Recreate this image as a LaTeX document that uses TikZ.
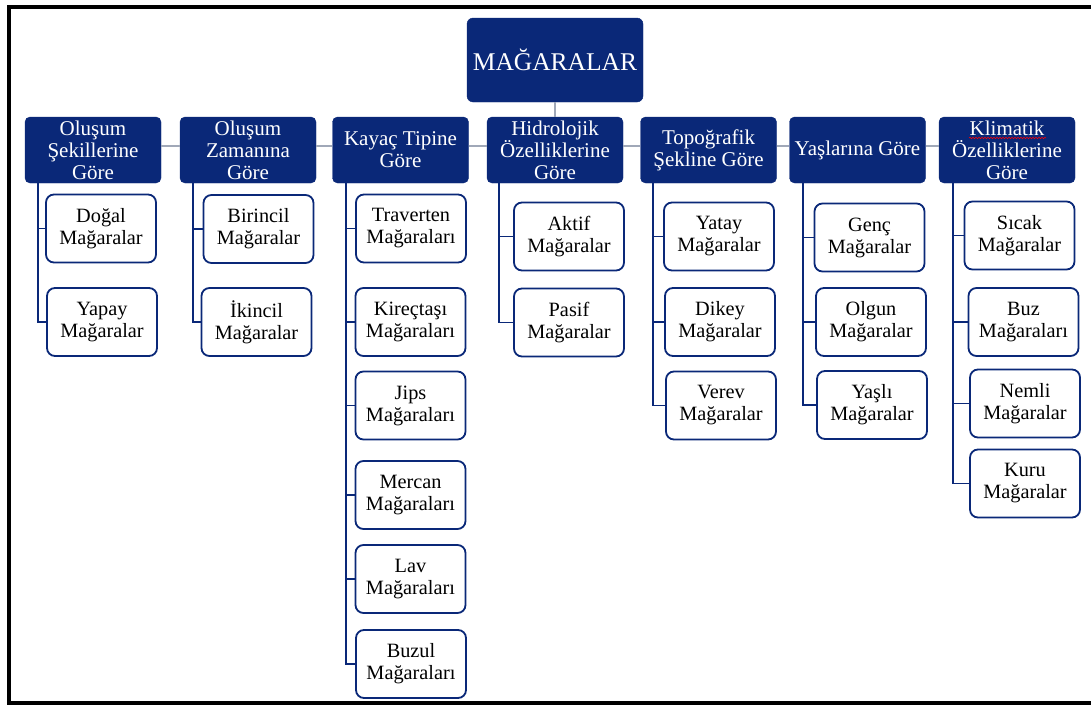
\documentclass[tikz,border=0pt]{standalone}
\usepackage{fontspec}
\setmainfont{Liberation Serif}
\usetikzlibrary{decorations.pathmorphing}
\definecolor{navy}{RGB}{10,40,120}
\definecolor{conngray}{RGB}{160,168,184}
\begin{document}
\begin{tikzpicture}[x=1pt,y=-1pt,
  hdr/.style={draw=navy, fill=navy, rounded corners=5pt, text=white, align=center,
    minimum width=136pt, minimum height=66pt, inner sep=0pt,
    font=\fontsize{21}{22}\selectfont},
  rootbox/.style={draw=navy, fill=navy, rounded corners=6pt, text=white, align=center,
    minimum width=176pt, minimum height=84pt, inner sep=0pt,
    font=\fontsize{25.5}{28}\selectfont},
  leaf/.style={draw=navy, fill=white, line width=1.8pt, rounded corners=8pt, align=center,
    minimum width=110pt, minimum height=68pt, inner sep=0pt,
    font=\fontsize{20.3}{22}\selectfont},
  spine/.style={draw=navy, line width=1.8pt},
  gline/.style={draw=conngray, line width=1.8pt}]
\useasboundingbox (0,0) rectangle (1091,704);
% frame
\draw[line width=4pt, black] (1100,6.5) -- (9,6.5) -- (9,702.5) -- (1100,702.5);

% root
\node[rootbox] (root) at (555,60) {MAĞARALAR};

% headers
\node[hdr] (h1) at (93,150) {Oluşum\\Şekillerine\\Göre};
\node[hdr] (h2) at (248,150) {Oluşum\\Zamanına\\Göre};
\node[hdr] (h3) at (400.5,150) {Kayaç Tipine\\Göre};
\node[hdr] (h4) at (555,150) {Hidrolojik\\Özelliklerine\\Göre};
\node[hdr] (h5) at (708.5,150) {Topoğrafik\\Şekline Göre};
\node[hdr] (h6) at (857.5,150) {Yaşlarına Göre};
\node[hdr] (h7) at (1007,150) {Klimatik\\Özelliklerine\\Göre};

\draw[red, line width=0.6pt, decorate, decoration={snake, amplitude=0.7pt, segment length=3pt}] (969,138) -- (1046,138);

% header connectors
\draw[gline] (root.south) -- (h4.north);
\draw[gline] ([yshift=4pt]h1.east) -- ([yshift=4pt]h2.west);
\draw[gline] ([yshift=4pt]h2.east) -- ([yshift=4pt]h3.west);
\draw[gline] ([yshift=4pt]h3.east) -- ([yshift=4pt]h4.west);
\draw[gline] ([yshift=4pt]h4.east) -- ([yshift=4pt]h5.west);
\draw[gline] ([yshift=4pt]h5.east) -- ([yshift=4pt]h6.west);
\draw[gline] ([yshift=4pt]h6.east) -- ([yshift=4pt]h7.west);

% leaves
\node[leaf] (a1) at (101,228.5) {Doğal\\Mağaralar};
\node[leaf] (a2) at (102,322) {Yapay\\Mağaralar};

\node[leaf] (b1) at (258.5,229) {Birincil\\Mağaralar};
\node[leaf] (b2) at (256.5,322) {İkincil\\Mağaralar};

\node[leaf] (c1) at (411,228.5) {Traverten\\Mağaraları};
\node[leaf] (c2) at (410.5,322) {Kireçtaşı\\Mağaraları};
\node[leaf] (c3) at (410.5,405.5) {Jips\\Mağaraları};
\node[leaf] (c4) at (410.5,495) {Mercan\\Mağaraları};
\node[leaf] (c5) at (410.5,579) {Lav\\Mağaraları};
\node[leaf] (c6) at (411,664) {Buzul\\Mağaraları};

\node[leaf] (d1) at (569,236.5) {Aktif\\Mağaralar};
\node[leaf] (d2) at (569,322.5) {Pasif\\Mağaralar};

\node[leaf] (e1) at (719,236.5) {Yatay\\Mağaralar};
\node[leaf] (e2) at (720,322) {Dikey\\Mağaralar};
\node[leaf] (e3) at (721,405.5) {Verev\\Mağaralar};

\node[leaf] (f1) at (869.5,237.5) {Genç\\Mağaralar};
\node[leaf] (f2) at (871,322) {Olgun\\Mağaralar};
\node[leaf] (f3) at (872,405) {Yaşlı\\Mağaralar};

\node[leaf] (g1) at (1019.5,235.5) {Sıcak\\Mağaralar};
\node[leaf] (g2) at (1023.5,322) {Buz\\Mağaraları};
\node[leaf] (g3) at (1025,403.5) {Nemli\\Mağaralar};
\node[leaf] (g4) at (1025,483.5) {Kuru\\Mağaralar};

% spines
\coordinate (s1) at (38,183);
\coordinate (s2) at (193,183);
\coordinate (s3) at (346,183);
\coordinate (s4) at (499,183);
\coordinate (s5) at (653,183);
\coordinate (s6) at (803,183);
\coordinate (s7) at (953,183);

\draw[spine] (s1) |- (a1.west); \draw[spine] (s1) |- (a2.west);
\draw[spine] (s2) |- (b1.west); \draw[spine] (s2) |- (b2.west);
\foreach \n in {c1,c2,c3,c4,c5,c6} {\draw[spine] (s3) |- (\n.west);}
\draw[spine] (s4) |- (d1.west); \draw[spine] (s4) |- (d2.west);
\foreach \n in {e1,e2,e3} {\draw[spine] (s5) |- (\n.west);}
\foreach \n in {f1,f2,f3} {\draw[spine] (s6) |- (\n.west);}
\foreach \n in {g1,g2,g3,g4} {\draw[spine] (s7) |- (\n.west);}
\end{tikzpicture}
\end{document}
